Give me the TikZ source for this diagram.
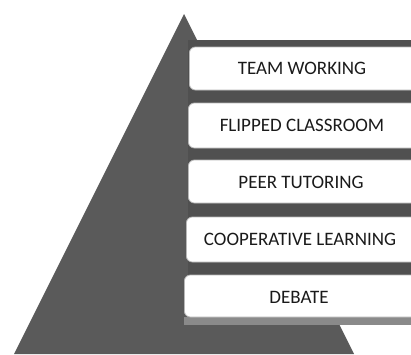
\documentclass[tikz,border=0pt]{standalone}
\usepackage{fontspec}
\setmainfont{Carlito}
\definecolor{tri}{HTML}{5A5A5A}
\definecolor{band}{HTML}{505050}
\definecolor{lowband}{HTML}{8A8A8A}
\definecolor{boxline}{HTML}{B8B8B8}
\definecolor{txt}{HTML}{1A1A1A}
\begin{document}
\begin{tikzpicture}[x=1pt,y=1pt,
  stepbox/.style={draw=boxline, line width=0.8pt, fill=white, rounded corners=6pt,
    minimum width=260pt, inner sep=0pt},
  steptext/.style={inner sep=0pt, font=\fontsize{19}{22}\selectfont, text=txt}]
\clip (0,0) rectangle (411,-354);
\fill[white] (0,0) rectangle (411,-354);
% pyramid
\fill[tri] (184,-14) -- (354,-354) -- (14,-354) -- cycle;
% shadow band behind the boxes
\fill[band] (188,-40) rectangle (420,-318);
\fill[lowband] (184,-317) rectangle (420,-325);
% boxes (they run on past the right edge)
\node[stepbox, minimum height=43pt, anchor=west] (b1) at (189,-68.5) {};
\node[stepbox, minimum height=45pt, anchor=west] (b2) at (188,-125.5) {};
\node[stepbox, minimum height=43pt, anchor=west] (b3) at (188,-181.5) {};
\node[stepbox, minimum height=45pt, anchor=west] (b4) at (186,-239.5) {};
\node[stepbox, minimum height=42pt, anchor=west] (b5) at (184,-296) {};
% labels
\node[steptext] (t1) at (302,-68) {TEAM WORKING};
\node[steptext] (t2) at (302,-125) {FLIPPED CLASSROOM};
\node[steptext] (t3) at (301,-182) {PEER TUTORING};
\node[steptext] (t4) at (300,-239) {COOPERATIVE LEARNING};
\node[steptext] (t5) at (299,-297) {DEBATE};
\end{tikzpicture}
\end{document}
